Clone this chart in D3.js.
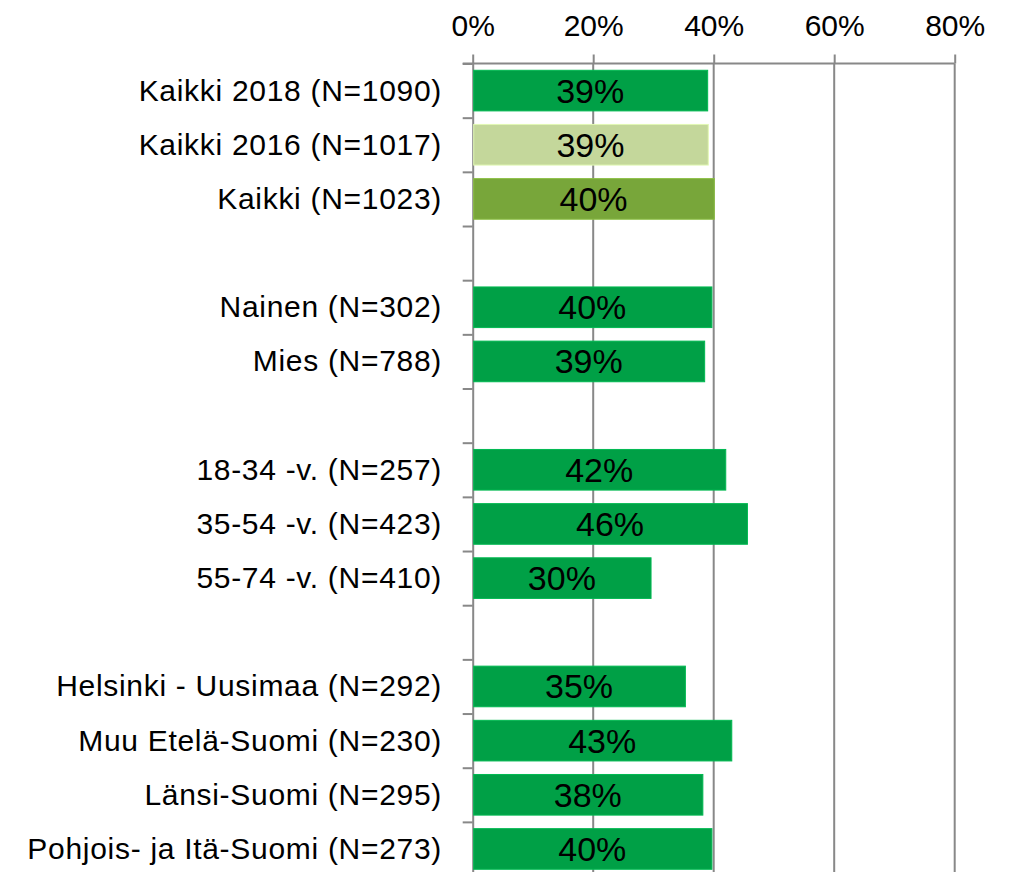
<!DOCTYPE html>
<html>
<head>
<meta charset="utf-8">
<script src="https://cdn.jsdelivr.net/npm/d3@7"></script>
<style>
    body { margin: 0; background: #fff; }
    svg { display: block; font-family: "Liberation Sans", Arial, sans-serif; }
    .axis path, .axis line { stroke: #888; stroke-width: 2; }
    .axis text { fill: #000; }
</style>
</head>
<body>
<div id="chart"></div>
<script>
// rows top to bottom, null = empty gap row
const labels = [
    "Kaikki 2018 (N=1090)", "Kaikki 2016 (N=1017)", "Kaikki (N=1023)", null,
    "Nainen (N=302)", "Mies (N=788)", null,
    "18-34 -v. (N=257)", "35-54 -v. (N=423)", "55-74 -v. (N=410)", null,
    "Helsinki - Uusimaa (N=292)", "Muu Etelä-Suomi (N=230)", "Länsi-Suomi (N=295)", "Pohjois- ja Itä-Suomi (N=273)"
];
const values = [39.0, 39.1, 40.1, null, 39.7, 38.5, null, 42.0, 45.6, 29.6, null, 35.3, 43.0, 38.2, 39.7];
const barColors = ["#00a046", "#c4d79b", "#78a63a", null, "#00a046", "#00a046", null,
    "#00a046", "#00a046", "#00a046", null, "#00a046", "#00a046", "#00a046", "#00a046"];
const xTicks = [0, 20, 40, 60, 80];

const W = 1012, H = 872;
const plotLeft = 472.7, plotRight = 954.7, plotTop = 63.5;
const rowStep = 54.17;

const svg = d3.select("#chart").append("svg")
    .attr("width", W)
    .attr("height", H);

const rows = labels.map((l, i) => ({ i, label: l, value: values[i], color: barColors[i] }));

const x = d3.scaleLinear().domain([0, 80]).range([plotLeft, plotRight]);
const plotBottom = plotTop + rowStep * rows.length;
const y = d3.scaleBand()
    .domain(rows.map(d => d.i))
    .range([plotTop, plotBottom])
    .paddingInner(0.25)
    .paddingOuter(0.125);
const yEdge = d3.scaleLinear().domain([0, rows.length]).range([plotTop, plotBottom]);

// vertical gridlines
svg.append("g")
    .selectAll("line")
    .data(xTicks.slice(1))
    .join("line")
    .attr("x1", d => x(d)).attr("x2", d => x(d))
    .attr("y1", plotTop).attr("y2", plotBottom)
    .attr("stroke", "#888")
    .attr("stroke-width", 2);

// top axis
const xAxis = svg.append("g")
    .attr("class", "axis")
    .attr("transform", `translate(0, ${plotTop})`)
    .call(d3.axisTop(x).tickValues(xTicks).tickSize(9).tickSizeOuter(0).tickFormat(d => d + "%"));
xAxis.select(".domain").attr("d", `M${plotLeft - 10},0H${plotRight}`);
xAxis.selectAll("text")
    .attr("font-size", 30)
    .attr("y", -28)
    .attr("dy", 0);

// left axis with ticks on row boundaries
svg.append("g")
    .attr("class", "axis")
    .attr("transform", `translate(${plotLeft}, 0)`)
    .call(d3.axisLeft(yEdge).tickValues(d3.range(rows.length + 1)).tickSize(10).tickSizeOuter(0).tickFormat(""));

// bars
const bars = rows.filter(d => d.value != null);
svg.append("g")
    .selectAll("rect")
    .data(bars)
    .join("rect")
    .attr("x", x(0) + 1)
    .attr("y", d => y(d.i))
    .attr("width", d => x(d.value) - x(0) - 1)
    .attr("height", y.bandwidth())
    .attr("fill", d => d.color)
    .attr("stroke", d => d3.color(d.color).brighter(0.4))
    .attr("stroke-width", 1);

// value labels in bars
svg.append("g")
    .selectAll("text")
    .data(bars)
    .join("text")
    .attr("x", d => (x(0) + x(d.value)) / 2)
    .attr("y", d => y(d.i) + y.bandwidth() / 2 + 12)
    .attr("text-anchor", "middle")
    .attr("font-size", 34)
    .attr("fill", "#000")
    .text(d => Math.round(d.value) + "%");

// category labels
svg.append("g")
    .selectAll("text")
    .data(rows.filter(d => d.label))
    .join("text")
    .attr("x", 442)
    .attr("y", d => y(d.i) + y.bandwidth() / 2 + 10)
    .attr("text-anchor", "end")
    .attr("font-size", 30)
    .attr("letter-spacing", "0.7px")
    .attr("fill", "#000")
    .text(d => d.label);
</script>
</body>
</html>
